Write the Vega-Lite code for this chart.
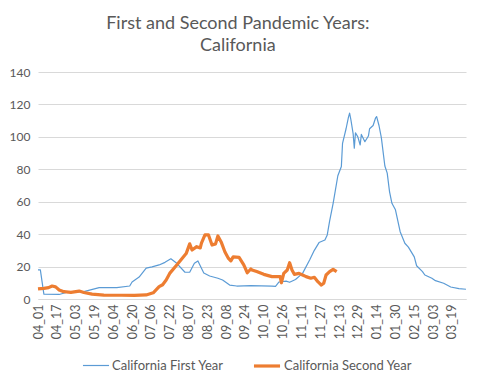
{
  "$schema": "https://vega.github.io/schema/vega-lite/v6.json",
  "width": 428,
  "height": 227,
  "autosize": {"type": "none"},
  "padding": {"left": 38, "top": 72, "right": 14, "bottom": 87},
  "background": "white",
  "title": {
    "text": ["First and Second Pandemic Years:", "California"],
    "font": "Lato",
    "fontSize": 18,
    "fontWeight": "normal",
    "color": "#595959",
    "anchor": "middle",
    "frame": "bounds",
    "lineHeight": 22,
    "offset": 11
  },
  "data": {
    "values": [
      {"date": "2020-04-01", "series": "California First Year", "value": 18},
      {"date": "2020-04-03", "series": "California First Year", "value": 18},
      {"date": "2020-04-06", "series": "California First Year", "value": 3},
      {"date": "2020-04-19", "series": "California First Year", "value": 2.8},
      {"date": "2020-04-25", "series": "California First Year", "value": 4},
      {"date": "2020-05-10", "series": "California First Year", "value": 4.5},
      {"date": "2020-05-23", "series": "California First Year", "value": 7},
      {"date": "2020-06-07", "series": "California First Year", "value": 7},
      {"date": "2020-06-18", "series": "California First Year", "value": 8},
      {"date": "2020-06-20", "series": "California First Year", "value": 10.5},
      {"date": "2020-06-26", "series": "California First Year", "value": 13.5},
      {"date": "2020-07-02", "series": "California First Year", "value": 19},
      {"date": "2020-07-07", "series": "California First Year", "value": 19.8},
      {"date": "2020-07-13", "series": "California First Year", "value": 21},
      {"date": "2020-07-18", "series": "California First Year", "value": 22.6},
      {"date": "2020-07-23", "series": "California First Year", "value": 24.8},
      {"date": "2020-07-28", "series": "California First Year", "value": 22},
      {"date": "2020-08-04", "series": "California First Year", "value": 16.5},
      {"date": "2020-08-08", "series": "California First Year", "value": 16.5},
      {"date": "2020-08-12", "series": "California First Year", "value": 22},
      {"date": "2020-08-15", "series": "California First Year", "value": 23.5},
      {"date": "2020-08-20", "series": "California First Year", "value": 16},
      {"date": "2020-08-25", "series": "California First Year", "value": 14.2},
      {"date": "2020-09-01", "series": "California First Year", "value": 12.8},
      {"date": "2020-09-05", "series": "California First Year", "value": 11.7},
      {"date": "2020-09-11", "series": "California First Year", "value": 8.6},
      {"date": "2020-09-17", "series": "California First Year", "value": 8},
      {"date": "2020-09-29", "series": "California First Year", "value": 8.2},
      {"date": "2020-10-17", "series": "California First Year", "value": 8},
      {"date": "2020-10-20", "series": "California First Year", "value": 7.8},
      {"date": "2020-10-23", "series": "California First Year", "value": 10.5},
      {"date": "2020-10-29", "series": "California First Year", "value": 11},
      {"date": "2020-11-01", "series": "California First Year", "value": 10.3},
      {"date": "2020-11-06", "series": "California First Year", "value": 12},
      {"date": "2020-11-12", "series": "California First Year", "value": 15.8},
      {"date": "2020-11-18", "series": "California First Year", "value": 24},
      {"date": "2020-11-22", "series": "California First Year", "value": 30},
      {"date": "2020-11-26", "series": "California First Year", "value": 34.8},
      {"date": "2020-12-01", "series": "California First Year", "value": 36.4},
      {"date": "2020-12-03", "series": "California First Year", "value": 39.5},
      {"date": "2020-12-05", "series": "California First Year", "value": 48},
      {"date": "2020-12-08", "series": "California First Year", "value": 59},
      {"date": "2020-12-12", "series": "California First Year", "value": 76},
      {"date": "2020-12-15", "series": "California First Year", "value": 81.7},
      {"date": "2020-12-16", "series": "California First Year", "value": 96},
      {"date": "2020-12-19", "series": "California First Year", "value": 105},
      {"date": "2020-12-21", "series": "California First Year", "value": 112},
      {"date": "2020-12-22", "series": "California First Year", "value": 114.6},
      {"date": "2020-12-23", "series": "California First Year", "value": 111},
      {"date": "2020-12-25", "series": "California First Year", "value": 102},
      {"date": "2020-12-26", "series": "California First Year", "value": 93},
      {"date": "2020-12-27", "series": "California First Year", "value": 102.5},
      {"date": "2020-12-29", "series": "California First Year", "value": 100},
      {"date": "2020-12-31", "series": "California First Year", "value": 95},
      {"date": "2021-01-01", "series": "California First Year", "value": 101.5},
      {"date": "2021-01-04", "series": "California First Year", "value": 97},
      {"date": "2021-01-07", "series": "California First Year", "value": 100.5},
      {"date": "2021-01-08", "series": "California First Year", "value": 105},
      {"date": "2021-01-11", "series": "California First Year", "value": 107},
      {"date": "2021-01-13", "series": "California First Year", "value": 111.5},
      {"date": "2021-01-14", "series": "California First Year", "value": 112.5},
      {"date": "2021-01-16", "series": "California First Year", "value": 107},
      {"date": "2021-01-18", "series": "California First Year", "value": 99.5},
      {"date": "2021-01-21", "series": "California First Year", "value": 82},
      {"date": "2021-01-23", "series": "California First Year", "value": 77.6},
      {"date": "2021-01-25", "series": "California First Year", "value": 66},
      {"date": "2021-01-27", "series": "California First Year", "value": 59},
      {"date": "2021-01-30", "series": "California First Year", "value": 55},
      {"date": "2021-02-03", "series": "California First Year", "value": 41.5},
      {"date": "2021-02-07", "series": "California First Year", "value": 34.4},
      {"date": "2021-02-10", "series": "California First Year", "value": 32},
      {"date": "2021-02-15", "series": "California First Year", "value": 26},
      {"date": "2021-02-17", "series": "California First Year", "value": 20.5},
      {"date": "2021-02-22", "series": "California First Year", "value": 16.9},
      {"date": "2021-02-24", "series": "California First Year", "value": 14.8},
      {"date": "2021-03-02", "series": "California First Year", "value": 12.8},
      {"date": "2021-03-05", "series": "California First Year", "value": 11.3},
      {"date": "2021-03-12", "series": "California First Year", "value": 9.7},
      {"date": "2021-03-18", "series": "California First Year", "value": 7.4},
      {"date": "2021-03-25", "series": "California First Year", "value": 6.4},
      {"date": "2021-03-31", "series": "California First Year", "value": 6},
      {"date": "2020-04-01", "series": "California Second Year", "value": 6.2},
      {"date": "2020-04-06", "series": "California Second Year", "value": 6.6},
      {"date": "2020-04-10", "series": "California Second Year", "value": 7},
      {"date": "2020-04-13", "series": "California Second Year", "value": 8},
      {"date": "2020-04-16", "series": "California Second Year", "value": 7.5},
      {"date": "2020-04-19", "series": "California Second Year", "value": 5.6},
      {"date": "2020-04-23", "series": "California Second Year", "value": 4.5},
      {"date": "2020-04-29", "series": "California Second Year", "value": 4.1},
      {"date": "2020-05-06", "series": "California Second Year", "value": 4.9},
      {"date": "2020-05-10", "series": "California Second Year", "value": 4},
      {"date": "2020-05-17", "series": "California Second Year", "value": 3},
      {"date": "2020-05-27", "series": "California Second Year", "value": 2.4},
      {"date": "2020-06-11", "series": "California Second Year", "value": 2.3},
      {"date": "2020-06-22", "series": "California Second Year", "value": 2.2},
      {"date": "2020-07-02", "series": "California Second Year", "value": 2.5},
      {"date": "2020-07-08", "series": "California Second Year", "value": 3.8},
      {"date": "2020-07-13", "series": "California Second Year", "value": 7.6},
      {"date": "2020-07-16", "series": "California Second Year", "value": 8.8},
      {"date": "2020-07-19", "series": "California Second Year", "value": 11.7},
      {"date": "2020-07-22", "series": "California Second Year", "value": 15.8},
      {"date": "2020-07-28", "series": "California Second Year", "value": 21},
      {"date": "2020-08-01", "series": "California Second Year", "value": 24.5},
      {"date": "2020-08-05", "series": "California Second Year", "value": 28},
      {"date": "2020-08-08", "series": "California Second Year", "value": 34},
      {"date": "2020-08-10", "series": "California Second Year", "value": 30.2},
      {"date": "2020-08-14", "series": "California Second Year", "value": 32.3},
      {"date": "2020-08-17", "series": "California Second Year", "value": 31.5},
      {"date": "2020-08-18", "series": "California Second Year", "value": 34.4},
      {"date": "2020-08-21", "series": "California Second Year", "value": 39.5},
      {"date": "2020-08-24", "series": "California Second Year", "value": 39.5},
      {"date": "2020-08-27", "series": "California Second Year", "value": 33.3},
      {"date": "2020-08-30", "series": "California Second Year", "value": 34},
      {"date": "2020-09-01", "series": "California Second Year", "value": 38.9},
      {"date": "2020-09-04", "series": "California Second Year", "value": 34.8},
      {"date": "2020-09-07", "series": "California Second Year", "value": 29},
      {"date": "2020-09-10", "series": "California Second Year", "value": 25},
      {"date": "2020-09-12", "series": "California Second Year", "value": 23.5},
      {"date": "2020-09-14", "series": "California Second Year", "value": 26},
      {"date": "2020-09-19", "series": "California Second Year", "value": 25.7},
      {"date": "2020-09-23", "series": "California Second Year", "value": 21},
      {"date": "2020-09-26", "series": "California Second Year", "value": 16.2},
      {"date": "2020-09-29", "series": "California Second Year", "value": 18.5},
      {"date": "2020-09-30", "series": "California Second Year", "value": 17.9},
      {"date": "2020-10-04", "series": "California Second Year", "value": 16.9},
      {"date": "2020-10-10", "series": "California Second Year", "value": 15.2},
      {"date": "2020-10-17", "series": "California Second Year", "value": 13.8},
      {"date": "2020-10-24", "series": "California Second Year", "value": 13.8},
      {"date": "2020-10-25", "series": "California Second Year", "value": 10},
      {"date": "2020-10-27", "series": "California Second Year", "value": 15.8},
      {"date": "2020-10-30", "series": "California Second Year", "value": 17.9},
      {"date": "2020-11-01", "series": "California Second Year", "value": 22.4},
      {"date": "2020-11-03", "series": "California Second Year", "value": 17.9},
      {"date": "2020-11-05", "series": "California Second Year", "value": 15.2},
      {"date": "2020-11-09", "series": "California Second Year", "value": 15.8},
      {"date": "2020-11-12", "series": "California Second Year", "value": 14.8},
      {"date": "2020-11-15", "series": "California Second Year", "value": 13.8},
      {"date": "2020-11-19", "series": "California Second Year", "value": 12.8},
      {"date": "2020-11-22", "series": "California Second Year", "value": 13.4},
      {"date": "2020-11-25", "series": "California Second Year", "value": 10.7},
      {"date": "2020-11-28", "series": "California Second Year", "value": 8.6},
      {"date": "2020-11-30", "series": "California Second Year", "value": 9.7},
      {"date": "2020-12-02", "series": "California Second Year", "value": 14.8},
      {"date": "2020-12-05", "series": "California Second Year", "value": 16.9},
      {"date": "2020-12-08", "series": "California Second Year", "value": 18.3},
      {"date": "2020-12-11", "series": "California Second Year", "value": 16.9}
    ]
  },
  "mark": {"type": "line", "strokeJoin": "round", "strokeCap": "butt"},
  "encoding": {
    "x": {
      "field": "date",
      "type": "temporal",
      "scale": {"domain": ["2020-04-01", "2021-03-31"], "nice": false},
      "axis": {
        "title": null,
        "values": ["2020-04-01","2020-04-17","2020-05-03","2020-05-19","2020-06-04","2020-06-20","2020-07-06","2020-07-22","2020-08-07","2020-08-23","2020-09-08","2020-09-24","2020-10-10","2020-10-26","2020-11-11","2020-11-27","2020-12-13","2020-12-29","2021-01-14","2021-01-30","2021-02-15","2021-03-03","2021-03-19"],
        "format": "%m_%d",
        "labelAngle": -90,
        "labelFont": "Lato",
        "labelFontSize": 12.5,
        "labelColor": "#595959",
        "labelPadding": 5,
        "labelOverlap": false,
        "labelFlush": false,
        "ticks": false,
        "grid": false,
        "domainColor": "#D9D9D9"
      }
    },
    "y": {
      "field": "value",
      "type": "quantitative",
      "scale": {"domain": [0, 140], "nice": false},
      "axis": {
        "title": null,
        "values": [0, 20, 40, 60, 80, 100, 120, 140],
        "labelFont": "Lato",
        "labelFontSize": 12,
        "labelColor": "#595959",
        "labelPadding": 8,
        "ticks": false,
        "domain": false,
        "gridColor": "#D9D9D9"
      }
    },
    "color": {
      "field": "series",
      "type": "nominal",
      "scale": {"domain": ["California First Year", "California Second Year"], "range": ["#5B9BD5", "#ED7D31"]},
      "legend": {
        "title": null,
        "orient": "none",
        "legendX": 44,
        "legendY": 279,
        "direction": "horizontal",
        "symbolType": "stroke",
        "symbolSize": 680,
        "labelFont": "Lato",
        "labelFontSize": 13,
        "labelColor": "#595959",
        "labelOffset": 2,
        "columnPadding": 23
      }
    },
    "strokeWidth": {
      "field": "series",
      "type": "nominal",
      "scale": {"domain": ["California First Year", "California Second Year"], "range": [1.2, 3.2]},
      "legend": {
        "title": null,
        "orient": "none",
        "legendX": 44,
        "legendY": 279,
        "direction": "horizontal",
        "symbolType": "stroke",
        "symbolSize": 680,
        "labelFont": "Lato",
        "labelFontSize": 13,
        "labelColor": "#595959",
        "labelOffset": 2,
        "columnPadding": 23
      }
    }
  },
  "config": {"view": {"stroke": null}}
}
